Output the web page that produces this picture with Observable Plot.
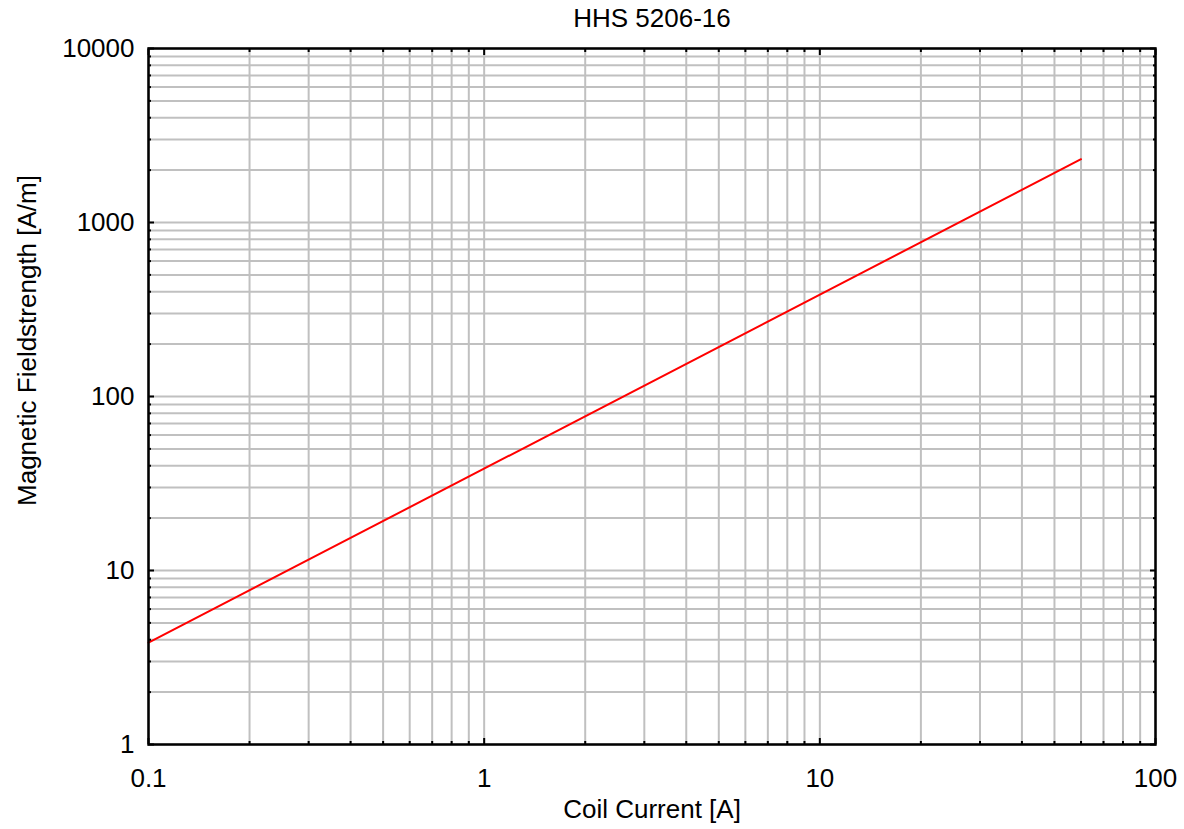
<!DOCTYPE html>
<html>
<head>
<meta charset="utf-8">
<script src="https://cdn.jsdelivr.net/npm/d3@7"></script>
<script src="https://cdn.jsdelivr.net/npm/@observablehq/plot@0.6"></script>
<style>
  html, body { margin: 0; padding: 0; background: #ffffff; }
</style>
</head>
<body>
<div id="chart"></div>
<script>
const chartTitle = "HHS 5206-16";
const xTitle = "Coil Current [A]";
const yTitle = "Magnetic Fieldstrength [A/m]";

// series: coil current [A] vs. magnetic field strength [A/m]
const current = [0.1, 60];
const field = [3.85, 2310];

// tick values
const xMajor = [0.1, 1, 10, 100];
const xMinor = [0.2, 0.3, 0.4, 0.5, 0.6, 0.7, 0.8, 0.9,
                2, 3, 4, 5, 6, 7, 8, 9,
                20, 30, 40, 50, 60, 70, 80, 90];
const yMajor = [1, 10, 100, 1000, 10000];
const yMinor = [2, 3, 4, 5, 6, 7, 8, 9,
                20, 30, 40, 50, 60, 70, 80, 90,
                200, 300, 400, 500, 600, 700, 800, 900,
                2000, 3000, 4000, 5000, 6000, 7000, 8000, 9000];

const data = current.map((c, i) => ({current: c, field: field[i]}));
const fmt = d => String(d);
const FONT = 26;
const gridStyle = {stroke: "#c0c0c0", strokeOpacity: 1, strokeWidth: 2};

const chart = Plot.plot({
  width: 1184,
  height: 829,
  marginLeft: 148,
  marginRight: 29,
  marginTop: 48,
  marginBottom: 85,
  style: {fontFamily: "'Liberation Sans', Arial, sans-serif", fontSize: FONT + "px", background: "#ffffff", color: "#000000"},
  x: {type: "log", domain: [0.1, 100]},
  y: {type: "log", domain: [1, 10000]},
  marks: [
    Plot.gridX(xMinor.concat(xMajor), gridStyle),
    Plot.gridY(yMinor.concat(yMajor), gridStyle),
    Plot.line(data, {x: "current", y: "field", stroke: "#ff0000", strokeWidth: 2}),
    // inward tick marks on all four sides
    Plot.axisX(xMinor, {anchor: "bottom", tickSize: -3, strokeWidth: 2, tickFormat: () => "", label: null}),
    Plot.axisX(xMinor, {anchor: "top", tickSize: -3, strokeWidth: 2, tickFormat: () => "", label: null}),
    Plot.axisY(yMinor, {anchor: "left", tickSize: -3, strokeWidth: 2, tickFormat: () => "", label: null}),
    Plot.axisY(yMinor, {anchor: "right", tickSize: -3, strokeWidth: 2, tickFormat: () => "", label: null}),
    Plot.axisX(xMajor, {anchor: "bottom", tickSize: -6, strokeWidth: 2, tickFormat: () => "", label: null}),
    Plot.axisX(xMajor, {anchor: "top", tickSize: -6, strokeWidth: 2, tickFormat: () => "", label: null}),
    Plot.axisY(yMajor, {anchor: "left", tickSize: -6, strokeWidth: 2, tickFormat: () => "", label: null}),
    Plot.axisY(yMajor, {anchor: "right", tickSize: -6, strokeWidth: 2, tickFormat: () => "", label: null}),
    // tick labels
    Plot.axisX(xMajor, {anchor: "bottom", tickSize: 0, tickPadding: 24, tickFormat: fmt, fontSize: FONT, label: null}),
    Plot.axisY(yMajor, {anchor: "left", tickSize: 0, tickPadding: 14, tickFormat: fmt, fontSize: FONT, label: null}),
    Plot.frame({stroke: "#000000", strokeWidth: 2.5}),
    // titles
    Plot.text([chartTitle], {frameAnchor: "top", lineAnchor: "middle", textAnchor: "middle", dy: -30, fontSize: FONT, fill: "#000000"}),
    Plot.text([xTitle], {frameAnchor: "bottom", lineAnchor: "middle", textAnchor: "middle", dy: 65, fontSize: FONT, fill: "#000000"}),
    Plot.text([yTitle], {frameAnchor: "left", lineAnchor: "middle", textAnchor: "middle", rotate: -90, dx: -121, dy: -56, fontSize: FONT, fill: "#000000"})
  ]
});
document.getElementById("chart").appendChild(chart);
</script>
</body>
</html>
